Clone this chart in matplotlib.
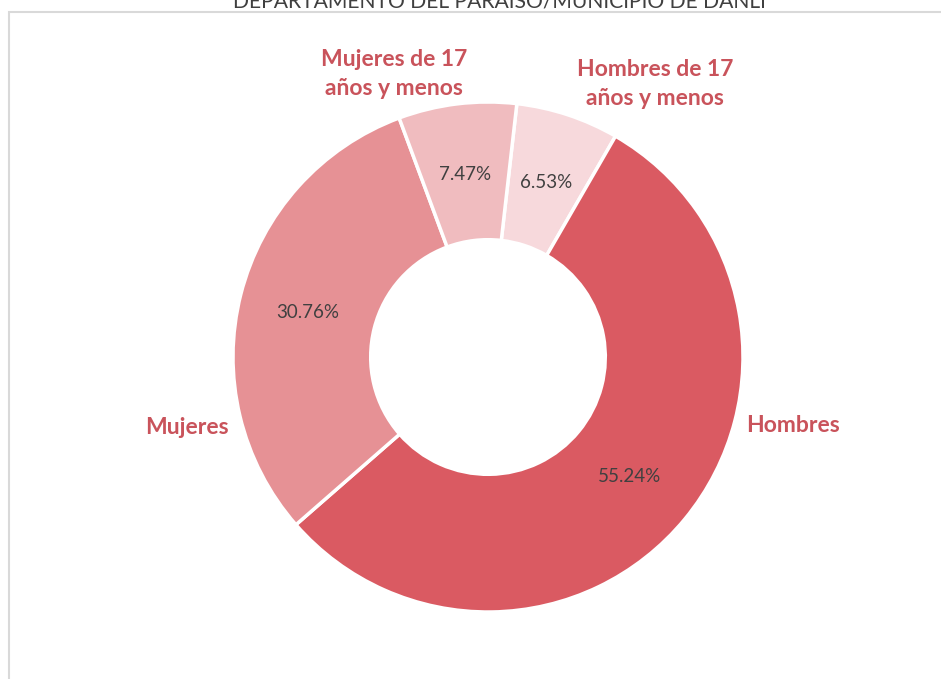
import matplotlib.pyplot as plt
from matplotlib.patches import Rectangle

# Datos (orden en sentido horario desde arriba)
categorias = ["Hombres de 17\naños y menos", "Hombres", "Mujeres", "Mujeres de 17\naños y menos"]
porcentajes = [6.53, 55.24, 30.76, 7.47]
colores = ["#F7D9DC", "#DA5A62", "#E69195", "#F0BCBF"]
titulo = "DEPARTAMENTO DEL PARAISO/MUNICIPIO DE DANLI"

W, H = 941, 679
fig = plt.figure(figsize=(W / 100, H / 100), dpi=100)
ax = fig.add_axes([0, 0, 1, 1])

cx, cy, r = 488, H - 357, 255
ax.pie(porcentajes, colors=colores, startangle=83.5, counterclock=False,
       center=(cx, cy), radius=r,
       wedgeprops=dict(width=r * 0.54, edgecolor="white", linewidth=2.5))
ax.set_xlim(0, W)
ax.set_ylim(0, H)
ax.set_aspect("auto")
ax.axis("off")

# marco del area del grafico
fig.patches.append(Rectangle((8.5 / W, -0.1), 1.2, (H - 12) / H + 0.1,
                             transform=fig.transFigure, fill=False,
                             edgecolor="#D9D9D9", linewidth=1.5))

# titulo (cortado arriba, como en el original)
fig.text(499 / W, (H - 8) / H, titulo, ha="center", va="baseline",
         fontsize=15.2, color="#404040", family="Lato")

# etiquetas de categoria
color_lbl = "#C9535B"
pos_cat = [(655, 84), (793, 425), (187, 428), (394, 74)]
for txt, (x, y) in zip(categorias, pos_cat):
    ax.text(x, H - y, txt, ha="center", va="center", fontsize=16.5,
            fontweight="bold", color=color_lbl, family="Lato", linespacing=1.45)

# porcentajes
pos_pct = [(546, 183), (630, 477), (308, 313), (465, 175)]
for v, (x, y) in zip(porcentajes, pos_pct):
    ax.text(x, H - y, f"{v:.2f}%", ha="center", va="center", fontsize=13.5,
            color="#404040", family="Lato")

fig.savefig("out.png", dpi=100)
